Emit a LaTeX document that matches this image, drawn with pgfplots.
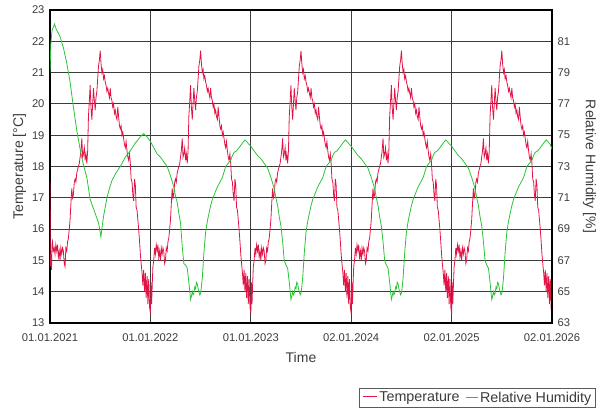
\documentclass[border=0pt]{standalone}
\usepackage{pgfplots}
\pgfplotsset{compat=1.18}
\usepackage{fontspec}
\setmainfont{Liberation Sans}
\definecolor{tcol}{RGB}{225,20,70}
\definecolor{hcol}{RGB}{45,195,55}
\definecolor{txt}{RGB}{60,60,60}
\definecolor{gridc}{RGB}{60,60,60}
\definecolor{legc}{RGB}{90,90,90}
\begin{document}
\begin{tikzpicture}
\path[use as bounding box] (0pt,0pt) rectangle (604pt,411pt);
\begin{axis}[
  at={(50pt,88pt)}, anchor=south west, scale only axis, width=502pt, height=313pt,
  xmin=0, xmax=5, ymin=13, ymax=23,
  xtick={0,1,2,3,4,5},
  xticklabels={01.01.2021,01.01.2022,01.01.2023,02.01.2024,02.01.2025,02.01.2026},
  ytick={13,14,...,23},
  grid=major, major grid style={gridc, line width=1.1pt},
  axis line style={black, line width=1.6pt},
  major tick length=0pt,
  /pgf/number format/assume math mode=true,
  tick label style={font=\fontsize{11.2}{13}\selectfont, text=txt},
  xticklabel style={yshift=-7pt},
  yticklabel style={xshift=-2pt},
  xlabel={Time}, ylabel={Temperature [°C]},
  label style={font=\fontsize{14}{16}\selectfont, text=txt},
  xlabel style={yshift=-4pt},
  ylabel style={yshift=-1pt},
  legend style={at={(1.0857,-0.2077)}, anchor=north east, legend columns=2,
    draw=legc, font=\fontsize{14.3}{16}\selectfont, inner sep=1.5pt,
    /tikz/every odd column/.append style={column sep=0pt},
    /tikz/every even column/.append style={column sep=2pt}},
  legend image code/.code={},
]
\addplot[draw=tcol, line width=0.8pt, forget plot] coordinates {
(0.000,17.5)(0.003,14.8)(0.010,15.2)(0.015,14.7)(0.020,15.5)(0.025,15.6)(0.033,15.3)(0.042,15.4)(0.050,15.2)(0.058,15.5)(0.067,15.3)
(0.075,15.5)(0.083,15.1)(0.092,15.3)(0.100,15.0)(0.108,15.4)(0.117,15.2)(0.125,15.4)(0.133,15.3)(0.142,14.9)(0.150,14.8)
(0.158,15.4)(0.167,15.3)(0.175,15.6)(0.183,15.7)(0.192,16.0)(0.200,16.3)(0.208,16.8)(0.217,17.3)(0.225,17.0)(0.233,17.1)
(0.242,17.5)(0.250,17.6)(0.258,17.5)(0.267,17.8)(0.275,17.9)(0.283,18.0)(0.292,18.1)(0.300,18.3)(0.308,18.5)(0.317,18.9)
(0.325,18.3)(0.333,18.4)(0.342,18.6)(0.350,18.2)(0.358,18.4)(0.367,18.1)(0.375,18.5)(0.383,19.6)(0.392,20.1)(0.400,20.6)
(0.408,19.9)(0.417,19.5)(0.425,20.0)(0.433,20.5)(0.442,20.1)(0.450,19.8)(0.458,20.2)(0.467,20.4)(0.475,20.8)(0.483,21.2)
(0.492,21.4)(0.500,21.7)(0.508,21.3)(0.517,21.0)(0.525,21.1)(0.533,20.8)(0.542,20.9)(0.550,20.7)(0.558,20.6)(0.567,20.4)
(0.575,20.5)(0.583,20.35)(0.592,20.2)(0.600,20.5)(0.608,20.2)(0.617,20.1)(0.625,19.9)(0.633,20.0)(0.642,19.7)(0.650,19.8)
(0.658,19.6)(0.667,19.5)(0.675,19.9)(0.683,19.6)(0.692,19.3)(0.700,19.2)(0.708,19.3)(0.717,19.0)(0.725,19.1)(0.733,18.9)
(0.742,18.7)(0.750,18.6)(0.758,18.8)(0.767,18.5)(0.775,18.3)(0.783,18.2)(0.792,18.4)(0.800,18.1)(0.808,17.6)(0.817,17.5)
(0.825,17.1)(0.833,16.9)(0.842,17.6)(0.850,17.4)(0.858,16.7)(0.867,16.6)(0.875,16.3)(0.883,16.0)(0.892,15.6)(0.900,15.2)
(0.908,14.9)(0.917,14.6)(0.925,14.2)(0.933,14.7)(0.942,14.0)(0.950,14.6)(0.958,13.8)(0.967,14.5)(0.975,13.6)(0.983,14.4)
(0.992,13.5)
(1.000,13.3)(1.006,14.3)(1.012,13.6)(1.018,14.2)(1.025,14.8)(1.033,15.0)(1.042,15.4)(1.050,15.2)(1.058,15.5)(1.067,15.3)
(1.075,15.5)(1.083,15.1)(1.092,15.3)(1.100,15.0)(1.108,15.4)(1.117,15.2)(1.125,15.4)(1.133,15.3)(1.142,14.9)(1.150,15.0)
(1.158,15.4)(1.167,15.3)(1.175,15.6)(1.183,15.7)(1.192,16.0)(1.200,16.3)(1.208,16.8)(1.217,17.3)(1.225,17.0)(1.233,17.1)
(1.242,17.5)(1.250,17.6)(1.258,17.5)(1.267,17.8)(1.275,17.9)(1.283,18.0)(1.292,18.1)(1.300,18.3)(1.308,18.5)(1.317,18.9)
(1.325,18.3)(1.333,18.4)(1.342,18.6)(1.350,18.2)(1.358,18.4)(1.367,18.1)(1.375,18.5)(1.383,19.6)(1.392,20.1)(1.400,20.6)
(1.408,19.9)(1.417,19.5)(1.425,20.0)(1.433,20.5)(1.442,20.1)(1.450,19.8)(1.458,20.2)(1.467,20.4)(1.475,20.8)(1.483,21.2)
(1.492,21.4)(1.500,21.7)(1.508,21.3)(1.517,21.0)(1.525,21.1)(1.533,20.8)(1.542,20.9)(1.550,20.7)(1.558,20.6)(1.567,20.4)
(1.575,20.5)(1.583,20.35)(1.592,20.2)(1.600,20.5)(1.608,20.2)(1.617,20.1)(1.625,19.9)(1.633,20.0)(1.642,19.7)(1.650,19.8)
(1.658,19.6)(1.667,19.5)(1.675,19.9)(1.683,19.6)(1.692,19.3)(1.700,19.2)(1.708,19.3)(1.717,19.0)(1.725,19.1)(1.733,18.9)
(1.742,18.7)(1.750,18.6)(1.758,18.8)(1.767,18.5)(1.775,18.3)(1.783,18.2)(1.792,18.4)(1.800,18.1)(1.808,17.6)(1.817,17.5)
(1.825,17.1)(1.833,16.9)(1.842,17.6)(1.850,17.4)(1.858,16.7)(1.867,16.6)(1.875,16.3)(1.883,16.0)(1.892,15.6)(1.900,15.2)
(1.908,14.9)(1.917,14.6)(1.925,14.2)(1.933,14.7)(1.942,14.0)(1.950,14.6)(1.958,13.8)(1.967,14.5)(1.975,13.6)(1.983,14.4)
(1.992,13.5)
(2.000,13.3)(2.006,14.3)(2.012,13.6)(2.018,14.2)(2.025,14.8)(2.033,15.0)(2.042,15.4)(2.050,15.2)(2.058,15.5)(2.067,15.3)
(2.075,15.5)(2.083,15.1)(2.092,15.3)(2.100,15.0)(2.108,15.4)(2.117,15.2)(2.125,15.4)(2.133,15.3)(2.142,14.9)(2.150,15.0)
(2.158,15.4)(2.167,15.3)(2.175,15.6)(2.183,15.7)(2.192,16.0)(2.200,16.3)(2.208,16.8)(2.217,17.3)(2.225,17.0)(2.233,17.1)
(2.242,17.5)(2.250,17.6)(2.258,17.5)(2.267,17.8)(2.275,17.9)(2.283,18.0)(2.292,18.1)(2.300,18.3)(2.308,18.5)(2.317,18.9)
(2.325,18.3)(2.333,18.4)(2.342,18.6)(2.350,18.2)(2.358,18.4)(2.367,18.1)(2.375,18.5)(2.383,19.6)(2.392,20.1)(2.400,20.6)
(2.408,19.9)(2.417,19.5)(2.425,20.0)(2.433,20.5)(2.442,20.1)(2.450,19.8)(2.458,20.2)(2.467,20.4)(2.475,20.8)(2.483,21.2)
(2.492,21.4)(2.500,21.7)(2.508,21.3)(2.517,21.0)(2.525,21.1)(2.533,20.8)(2.542,20.9)(2.550,20.7)(2.558,20.6)(2.567,20.4)
(2.575,20.5)(2.583,20.35)(2.592,20.2)(2.600,20.5)(2.608,20.2)(2.617,20.1)(2.625,19.9)(2.633,20.0)(2.642,19.7)(2.650,19.8)
(2.658,19.6)(2.667,19.5)(2.675,19.9)(2.683,19.6)(2.692,19.3)(2.700,19.2)(2.708,19.3)(2.717,19.0)(2.725,19.1)(2.733,18.9)
(2.742,18.7)(2.750,18.6)(2.758,18.8)(2.767,18.5)(2.775,18.3)(2.783,18.2)(2.792,18.4)(2.800,18.1)(2.808,17.6)(2.817,17.5)
(2.825,17.1)(2.833,16.9)(2.842,17.6)(2.850,17.4)(2.858,16.7)(2.867,16.6)(2.875,16.3)(2.883,16.0)(2.892,15.6)(2.900,15.2)
(2.908,14.9)(2.917,14.6)(2.925,14.2)(2.933,14.7)(2.942,14.0)(2.950,14.6)(2.958,13.8)(2.967,14.5)(2.975,13.6)(2.983,14.4)
(2.992,13.5)
(3.000,13.3)(3.006,14.3)(3.012,13.6)(3.018,14.2)(3.025,14.8)(3.033,15.0)(3.042,15.4)(3.050,15.2)(3.058,15.5)(3.067,15.3)
(3.075,15.5)(3.083,15.1)(3.092,15.3)(3.100,15.0)(3.108,15.4)(3.117,15.2)(3.125,15.4)(3.133,15.3)(3.142,14.9)(3.150,15.0)
(3.158,15.4)(3.167,15.3)(3.175,15.6)(3.183,15.7)(3.192,16.0)(3.200,16.3)(3.208,16.8)(3.217,17.3)(3.225,17.0)(3.233,17.1)
(3.242,17.5)(3.250,17.6)(3.258,17.5)(3.267,17.8)(3.275,17.9)(3.283,18.0)(3.292,18.1)(3.300,18.3)(3.308,18.5)(3.317,18.9)
(3.325,18.3)(3.333,18.4)(3.342,18.6)(3.350,18.2)(3.358,18.4)(3.367,18.1)(3.375,18.5)(3.383,19.6)(3.392,20.1)(3.400,20.6)
(3.408,19.9)(3.417,19.5)(3.425,20.0)(3.433,20.5)(3.442,20.1)(3.450,19.8)(3.458,20.2)(3.467,20.4)(3.475,20.8)(3.483,21.2)
(3.492,21.4)(3.500,21.7)(3.508,21.3)(3.517,21.0)(3.525,21.1)(3.533,20.8)(3.542,20.9)(3.550,20.7)(3.558,20.6)(3.567,20.4)
(3.575,20.5)(3.583,20.35)(3.592,20.2)(3.600,20.5)(3.608,20.2)(3.617,20.1)(3.625,19.9)(3.633,20.0)(3.642,19.7)(3.650,19.8)
(3.658,19.6)(3.667,19.5)(3.675,19.9)(3.683,19.6)(3.692,19.3)(3.700,19.2)(3.708,19.3)(3.717,19.0)(3.725,19.1)(3.733,18.9)
(3.742,18.7)(3.750,18.6)(3.758,18.8)(3.767,18.5)(3.775,18.3)(3.783,18.2)(3.792,18.4)(3.800,18.1)(3.808,17.6)(3.817,17.5)
(3.825,17.1)(3.833,16.9)(3.842,17.6)(3.850,17.4)(3.858,16.7)(3.867,16.6)(3.875,16.3)(3.883,16.0)(3.892,15.6)(3.900,15.2)
(3.908,14.9)(3.917,14.6)(3.925,14.2)(3.933,14.7)(3.942,14.0)(3.950,14.6)(3.958,13.8)(3.967,14.5)(3.975,13.6)(3.983,14.4)
(3.992,13.5)
(4.000,13.3)(4.006,14.3)(4.012,13.6)(4.018,14.2)(4.025,14.8)(4.033,15.0)(4.042,15.4)(4.050,15.2)(4.058,15.5)(4.067,15.3)
(4.075,15.5)(4.083,15.1)(4.092,15.3)(4.100,15.0)(4.108,15.4)(4.117,15.2)(4.125,15.4)(4.133,15.3)(4.142,14.9)(4.150,15.0)
(4.158,15.4)(4.167,15.3)(4.175,15.6)(4.183,15.7)(4.192,16.0)(4.200,16.3)(4.208,16.8)(4.217,17.3)(4.225,17.0)(4.233,17.1)
(4.242,17.5)(4.250,17.6)(4.258,17.5)(4.267,17.8)(4.275,17.9)(4.283,18.0)(4.292,18.1)(4.300,18.3)(4.308,18.5)(4.317,18.9)
(4.325,18.3)(4.333,18.4)(4.342,18.6)(4.350,18.2)(4.358,18.4)(4.367,18.1)(4.375,18.5)(4.383,19.6)(4.392,20.1)(4.400,20.6)
(4.408,19.9)(4.417,19.5)(4.425,20.0)(4.433,20.5)(4.442,20.1)(4.450,19.8)(4.458,20.2)(4.467,20.4)(4.475,20.8)(4.483,21.2)
(4.492,21.4)(4.500,21.7)(4.508,21.3)(4.517,21.0)(4.525,21.1)(4.533,20.8)(4.542,20.9)(4.550,20.7)(4.558,20.6)(4.567,20.4)
(4.575,20.5)(4.583,20.35)(4.592,20.2)(4.600,20.5)(4.608,20.2)(4.617,20.1)(4.625,19.9)(4.633,20.0)(4.642,19.7)(4.650,19.8)
(4.658,19.6)(4.667,19.5)(4.675,19.9)(4.683,19.6)(4.692,19.3)(4.700,19.2)(4.708,19.3)(4.717,19.0)(4.725,19.1)(4.733,18.9)
(4.742,18.7)(4.750,18.6)(4.758,18.8)(4.767,18.5)(4.775,18.3)(4.783,18.2)(4.792,18.4)(4.800,18.1)(4.808,17.6)(4.817,17.5)
(4.825,17.1)(4.833,16.9)(4.842,17.6)(4.850,17.4)(4.858,16.7)(4.867,16.6)(4.875,16.3)(4.883,16.0)(4.892,15.6)(4.900,15.2)
(4.908,14.9)(4.917,14.6)(4.925,14.2)(4.933,14.7)(4.942,14.0)(4.950,14.6)(4.958,13.8)(4.967,14.5)(4.975,13.6)(4.983,14.4)
(4.992,13.4)(5.000,14.6)
};
\addlegendimage{draw=tcol}
\addlegendentry{\textcolor{tcol}{\rule[4.5pt]{14pt}{0.9pt}}\,\textcolor{txt}{Temperature}}
\addlegendimage{draw=hcol}
\addlegendentry{\textcolor{hcol}{\rule[4.5pt]{12pt}{0.9pt}}\,\textcolor{txt}{Relative Humidity}}
\end{axis}
\begin{axis}[
  at={(50pt,88pt)}, anchor=south west, scale only axis, width=502pt, height=313pt,
  xmin=0, xmax=5, ymin=63, ymax=83,
  axis x line=none, axis y line*=right,
  ytick={63,65,...,81},
  axis line style={black, line width=1.6pt},
  major tick length=0pt,
  /pgf/number format/assume math mode=true,
  tick label style={font=\fontsize{11.2}{13}\selectfont, text=txt},
  yticklabel style={xshift=2pt},
  ylabel={Relative Humidity [\%]},
  label style={font=\fontsize{14}{16}\selectfont, text=txt},
  ylabel style={rotate=180, yshift=6pt},
]
\addplot[draw=hcol, line width=0.8pt] coordinates {
(0.000,79.0)(0.008,80.8)(0.020,81.7)(0.045,82.1)(0.060,81.8)(0.100,81.3)(0.133,80.6)(0.167,79.6)(0.200,78.4)(0.233,76.8)
(0.267,75.3)(0.300,74.1)(0.333,73.1)(0.367,72.3)(0.400,70.9)(0.433,70.3)(0.450,70.0)(0.483,69.4)(0.495,69.0)(0.507,68.5)
(0.520,69.2)(0.533,69.8)(0.550,70.4)(0.567,71.0)(0.592,71.6)(0.617,72.1)(0.658,72.6)(0.700,73.0)(0.750,73.6)(0.800,74.0)
(0.850,74.5)(0.900,74.9)(0.933,75.1)(0.967,74.9)
(1.000,74.6)(1.033,74.2)(1.067,73.8)(1.100,73.6)(1.133,73.3)(1.167,73.0)(1.200,72.4)(1.233,71.7)(1.250,71.1)(1.267,70.7)
(1.283,70.0)(1.300,69.4)(1.317,67.9)(1.333,66.8)(1.350,66.7)(1.367,66.5)(1.383,65.6)(1.400,64.5)(1.408,64.7)(1.417,65.0)
(1.425,64.8)(1.433,64.9)(1.442,65.3)(1.450,65.2)(1.458,65.6)(1.467,65.5)(1.475,65.2)(1.483,65.0)(1.492,64.8)(1.500,64.9)
(1.508,65.3)(1.517,65.9)(1.525,66.7)(1.533,67.5)(1.542,68.2)(1.550,68.8)(1.567,69.5)(1.583,70.0)(1.600,70.5)(1.617,70.9)
(1.642,71.3)(1.667,71.7)(1.692,72.0)(1.717,72.3)(1.750,73.0)(1.775,73.2)(1.800,73.4)(1.817,73.7)(1.833,73.9)(1.858,74.0)
(1.883,74.2)(1.917,74.5)(1.942,74.7)(1.958,74.6)(1.983,74.4)
(2.000,74.3)(2.033,74.0)(2.067,73.7)(2.100,73.5)(2.133,73.2)(2.167,72.9)(2.200,72.3)(2.233,71.6)(2.250,71.0)(2.267,70.5)
(2.283,69.8)(2.300,69.2)(2.317,68.2)(2.333,67.0)(2.350,66.7)(2.367,66.5)(2.383,65.6)(2.400,64.5)(2.408,64.7)(2.417,65.0)
(2.425,64.8)(2.433,64.9)(2.442,65.3)(2.450,65.2)(2.458,65.6)(2.467,65.5)(2.475,65.2)(2.483,65.0)(2.492,64.8)(2.500,64.9)
(2.508,65.3)(2.517,65.9)(2.525,66.7)(2.533,67.5)(2.542,68.2)(2.550,68.8)(2.567,69.5)(2.583,70.0)(2.600,70.5)(2.617,70.9)
(2.642,71.3)(2.667,71.7)(2.692,72.0)(2.717,72.3)(2.750,73.0)(2.775,73.2)(2.800,73.4)(2.817,73.7)(2.833,73.9)(2.858,74.0)
(2.883,74.2)(2.917,74.5)(2.942,74.7)(2.958,74.6)(2.983,74.4)
(3.000,74.3)(3.033,74.0)(3.067,73.7)(3.100,73.5)(3.133,73.2)(3.167,72.9)(3.200,72.3)(3.233,71.6)(3.250,71.0)(3.267,70.5)
(3.283,69.8)(3.300,69.2)(3.317,68.2)(3.333,67.0)(3.350,66.7)(3.367,66.5)(3.383,65.6)(3.400,64.5)(3.408,64.7)(3.417,65.0)
(3.425,64.8)(3.433,64.9)(3.442,65.3)(3.450,65.2)(3.458,65.6)(3.467,65.5)(3.475,65.2)(3.483,65.0)(3.492,64.8)(3.500,64.9)
(3.508,65.3)(3.517,65.9)(3.525,66.7)(3.533,67.5)(3.542,68.2)(3.550,68.8)(3.567,69.5)(3.583,70.0)(3.600,70.5)(3.617,70.9)
(3.642,71.3)(3.667,71.7)(3.692,72.0)(3.717,72.3)(3.750,73.0)(3.775,73.2)(3.800,73.4)(3.817,73.7)(3.833,73.9)(3.858,74.0)
(3.883,74.2)(3.917,74.5)(3.942,74.7)(3.958,74.6)(3.983,74.4)
(4.000,74.3)(4.033,74.0)(4.067,73.7)(4.100,73.5)(4.133,73.2)(4.167,72.9)(4.200,72.3)(4.233,71.6)(4.250,71.0)(4.267,70.5)
(4.283,69.8)(4.300,69.2)(4.317,68.2)(4.333,67.0)(4.350,66.7)(4.367,66.5)(4.383,65.6)(4.400,64.5)(4.408,64.7)(4.417,65.0)
(4.425,64.8)(4.433,64.9)(4.442,65.3)(4.450,65.2)(4.458,65.6)(4.467,65.5)(4.475,65.2)(4.483,65.0)(4.492,64.8)(4.500,64.9)
(4.508,65.3)(4.517,65.9)(4.525,66.7)(4.533,67.5)(4.542,68.2)(4.550,68.8)(4.567,69.5)(4.583,70.0)(4.600,70.5)(4.617,70.9)
(4.642,71.3)(4.667,71.7)(4.692,72.0)(4.717,72.3)(4.750,73.0)(4.775,73.2)(4.800,73.4)(4.817,73.7)(4.833,73.9)(4.858,74.0)
(4.883,74.2)(4.917,74.5)(4.942,74.7)(4.958,74.6)(4.983,74.4)(5.000,74.1)
};
\end{axis}
\end{tikzpicture}
\end{document}
